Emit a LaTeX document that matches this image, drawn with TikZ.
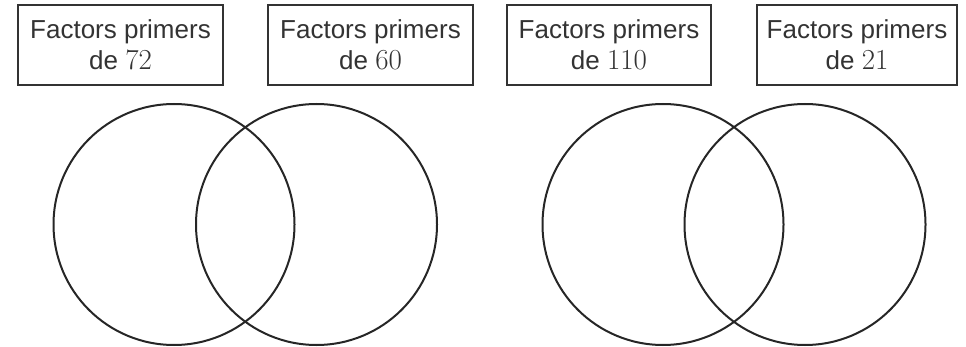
\documentclass[tikz,border=0pt]{standalone}
\usepackage{fontspec}
\setmainfont{Liberation Sans}
\newfontfamily\lmnum{Latin Modern Roman}
\newcommand{\num}[1]{{\lmnum\fontsize{29}{31}\selectfont #1}}
\begin{document}
\begin{tikzpicture}[x=1pt,y=-1pt,
  labelbox/.style={draw=black!80,line width=2pt,minimum width=#1,minimum height=80pt,inner sep=0pt,
    align=center,font=\fontsize{26}{31}\selectfont,text=black!80},
  venn/.style={draw=black!85,line width=2pt,circle,minimum size=241pt,inner sep=0pt}]
\useasboundingbox (0,0) rectangle (966,347);
\node[labelbox=205pt] (b1) at (120.5,45) {Factors primers\\de \num{72}};
\node[labelbox=205pt] (b2) at (370.5,45) {Factors primers\\de \num{60}};
\node[labelbox=204pt] (b3) at (609,45) {Factors primers\\de \num{110}};
\node[labelbox=200pt] (b4) at (857,45) {Factors primers\\de \num{21}};
\node[venn] (c1) at (174,224.5) {};
\node[venn] (c2) at (316.5,224.5) {};
\node[venn] (c3) at (663,224.5) {};
\node[venn] (c4) at (805,224.5) {};
\end{tikzpicture}
\end{document}
